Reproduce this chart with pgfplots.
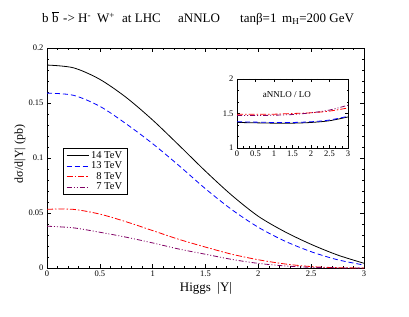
\documentclass[border=0pt]{standalone}
\usepackage{pgfplots}
\pgfplotsset{compat=1.18}
\usepackage{fontspec}
\setmainfont{Liberation Serif}
\definecolor{cpurple}{RGB}{128,0,100}
\begin{document}
\begin{tikzpicture}
\path[use as bounding box] (0,0) rectangle (409pt,316pt);
\pgfplotsset{every axis/.append style={
  /pgf/number format/assume math mode=true,
  tick align=inside, major tick length=4pt, minor tick length=2pt,
  axis line style={line width=0.8pt}, every tick/.style={line width=0.6pt,black},
  tick label style={font=\fontsize{8.5}{9}\selectfont},
}}
\begin{axis}[
  at={(47pt,48pt)}, anchor=south west, scale only axis,
  width=317pt, height=220pt,
  xmin=0, xmax=3, ymin=0, ymax=0.2,
  xtick={0,0.5,1,1.5,2,2.5,3}, xticklabels={0,0.5,1,1.5,2,2.5,3},
  ytick={0,0.05,0.1,0.15,0.2}, yticklabels={0,0.05,0.1,0.15,0.2},
  minor x tick num=4, minor y tick num=4,
  xtick pos=both, ytick pos=both,
  xticklabel style={yshift=1pt},
  legend style={at={(rel axis cs:0.05,0.545)}, anchor=north west, font=\fontsize{10.5}{10.5}\selectfont,
    draw=black, line width=0.8pt, inner xsep=3pt, inner ysep=1pt, row sep=-2pt, cells={line width=0.8pt}},
  legend cell align=right,
  legend image code/.code={\draw[#1] plot coordinates {(0pt,0pt) (22pt,0pt)};},
]
\addplot[black, line width=0.8pt, smooth] coordinates {
(0,0.1845) (0.25,0.182) (0.5,0.1715) (0.75,0.155) (1.0,0.1345) (1.25,0.1115) (1.5,0.088) (1.75,0.066) (2.0,0.047) (2.25,0.033) (2.5,0.0215) (2.75,0.0118) (3.0,0.0043)};
\addlegendentry{14 TeV}
\addplot[blue, line width=0.8pt, smooth, dash pattern=on 5pt off 3pt] coordinates {
(0,0.159) (0.25,0.157) (0.5,0.147) (0.75,0.131) (1.0,0.113) (1.25,0.093) (1.5,0.072) (1.75,0.053) (2.0,0.037) (2.25,0.0245) (2.5,0.0148) (2.75,0.0075) (3.0,0.0027)};
\addlegendentry{13 TeV}
\addplot[red, line width=0.8pt, smooth, dash pattern=on 6pt off 2pt on 1.5pt off 2pt] coordinates {
(0,0.0534) (0.25,0.0533) (0.5,0.049) (0.75,0.042) (1.0,0.034) (1.25,0.026) (1.5,0.019) (1.75,0.0125) (2.0,0.0075) (2.25,0.0037) (2.5,0.0013) (2.75,0.0003) (3.0,0.0)};
\addlegendentry{8 TeV}
\addplot[cpurple, line width=0.8pt, smooth, dash pattern=on 5pt off 2pt on 1pt off 2pt on 1pt off 2pt] coordinates {
(0,0.038) (0.25,0.0365) (0.5,0.0325) (0.75,0.028) (1.0,0.0228) (1.25,0.0172) (1.5,0.0125) (1.75,0.0078) (2.0,0.0042) (2.25,0.0019) (2.5,0.0006) (2.75,0.0001) (3.0,0.0)};
\addlegendentry{7 TeV}
\end{axis}
\begin{axis}[
  at={(237pt,168pt)}, anchor=south west, scale only axis,
  width=111pt, height=69pt,
  xmin=0, xmax=3, ymin=1, ymax=2,
  xtick={0,0.5,1,1.5,2,2.5,3}, xticklabels={0,0.5,1,1.5,2,2.5,3},
  ytick={1,1.5,2}, yticklabels={1,1.5,2},
  minor x tick num=2, minor y tick num=2,
  xtick pos=both, ytick pos=both,
  major tick length=3pt, minor tick length=1.5pt,
  xticklabel style={yshift=1pt},
]
\addplot[black, line width=0.8pt, smooth] coordinates {(0,1.37) (0.5,1.365) (1,1.36) (1.5,1.36) (2,1.37) (2.5,1.395) (3,1.45)};
\addplot[blue, line width=0.8pt, smooth, dash pattern=on 5pt off 3pt] coordinates {(0,1.38) (0.5,1.375) (1,1.37) (1.5,1.37) (2,1.38) (2.5,1.405) (3,1.46)};
\addplot[red, line width=0.8pt, smooth, dash pattern=on 6pt off 2pt on 1.5pt off 2pt] coordinates {(0,1.49) (0.5,1.49) (1,1.49) (1.5,1.5) (2,1.51) (2.5,1.535) (3,1.58)};
\addplot[cpurple, line width=0.8pt, smooth, dash pattern=on 5pt off 2pt on 1pt off 2pt on 1pt off 2pt] coordinates {(0,1.47) (0.5,1.47) (1,1.475) (1.5,1.485) (2,1.51) (2.5,1.55) (3,1.62)};
\node[font=\fontsize{9}{9}\selectfont] at (rel axis cs:0.45,0.77) {aNNLO / LO};
\end{axis}
\begin{scope}[every node/.style={anchor=base west, inner sep=0pt, font=\fontsize{13}{13}\selectfont}]
\node at (42pt,293pt) {b};
\node at (52pt,293pt) {$\overline{\mbox{b}}$};
\node at (63pt,293pt) {->};
\node at (78pt,293pt) {H\textsuperscript{-}};
\node at (97pt,293pt) {W\textsuperscript{+}};
\node at (122pt,293pt) {at LHC};
\node at (178pt,293pt) {aNNLO};
\node at (240pt,293pt) {tanβ=1};
\node at (282pt,293pt) {m\textsubscript{H}=200 GeV};
\end{scope}
\node[font=\fontsize{13}{13}\selectfont] at (206pt,28pt) {Higgs~ |Y|};
\node[rotate=90, font=\fontsize{12}{12}\selectfont] at (20pt,162pt) {dσ/d|Y| (pb)};
\end{tikzpicture}
\end{document}
